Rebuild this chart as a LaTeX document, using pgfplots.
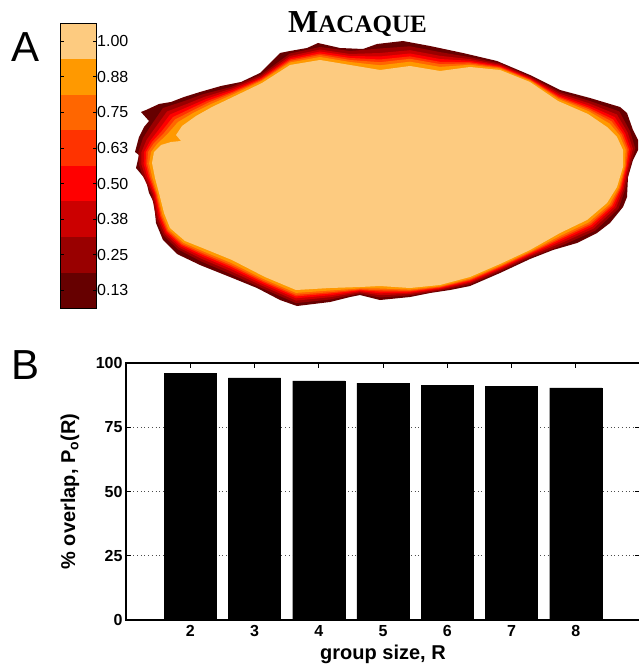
\documentclass[border=0pt]{standalone}
\usepackage{pgfplots}
\pgfplotsset{compat=1.18}
\usepackage{fontspec}
\setmainfont{Liberation Sans}
\newfontfamily\seriffont{Liberation Serif}
\definecolor{c1}{HTML}{660000}
\definecolor{c2}{HTML}{990000}
\definecolor{c3}{HTML}{CC0000}
\definecolor{c4}{HTML}{FF0000}
\definecolor{c5}{HTML}{FF3300}
\definecolor{c6}{HTML}{FF6600}
\definecolor{c7}{HTML}{FF9900}
\definecolor{c8}{HTML}{FDCB80}
\begin{document}
\begin{tikzpicture}[x=1pt,y=1pt]
\useasboundingbox (0,0) rectangle (639,665);
% ---------- colour bar ----------
\begin{axis}[at={(60.7pt,356.7pt)}, anchor=south west, scale only axis,
  width=36pt, height=285pt, xmin=0, xmax=1, ymin=0, ymax=8,
  xtick=\empty, ytick={0.5,1.5,2.5,3.5,4.5,5.5,6.5,7.5},
  yticklabels={0.13,0.25,0.38,0.50,0.63,0.75,0.88,1.00},
  yticklabel pos=right, ytick pos=both, tick align=inside,
  major tick length=3.5pt, axis on top,
  axis line style={line width=1.3pt}, every tick/.style={black, line width=0.8pt},
  yticklabel style={font=\fontsize{16}{16}\selectfont, xshift=-3pt},
  /pgf/number format/assume math mode=true]
\addplot[fill=c1, draw=none] coordinates {(0,0)(1,0)(1,1)(0,1)} --cycle;
\addplot[fill=c2, draw=none] coordinates {(0,1)(1,1)(1,2)(0,2)} --cycle;
\addplot[fill=c3, draw=none] coordinates {(0,2)(1,2)(1,3)(0,3)} --cycle;
\addplot[fill=c4, draw=none] coordinates {(0,3)(1,3)(1,4)(0,4)} --cycle;
\addplot[fill=c5, draw=none] coordinates {(0,4)(1,4)(1,5)(0,5)} --cycle;
\addplot[fill=c6, draw=none] coordinates {(0,5)(1,5)(1,6)(0,6)} --cycle;
\addplot[fill=c7, draw=none] coordinates {(0,6)(1,6)(1,7)(0,7)} --cycle;
\addplot[fill=c8, draw=none] coordinates {(0,7)(1,7)(1,8)(0,8)} --cycle;
\end{axis}
% ---------- overlap map ----------
\begin{axis}[at={(130pt,355pt)}, anchor=south west, scale only axis,
  width=509pt, height=270pt, xmin=130, xmax=639, ymin=40, ymax=310,
  y dir=reverse, hide axis, clip=false]
\addplot[fill=c1, draw=none] coordinates {(135,152)(139,137)(144,127)(149,121)(141,112)(146,110)(159,104)(171,102)(184,97)(200,92)(221,86)(241,82)(260,73)(280,53)(290,51)(307,48)(318,43)(340,48)(363,49)(377,44)(403,41)(430,46)(463,53)(497,61)(530,75)(560,90)(590,98)(620,107)(627,113)(633,130)(638,140)(638,150)(633,160)(628,177)(627,197)(623,207)(610,223)(597,233)(577,243)(553,250)(530,259)(500,273)(470,286)(450,290)(430,293)(410,297)(390,299)(380,300)(360,295)(350,297)(330,302)(297,306)(280,300)(257,288)(230,277)(200,265)(177,254)(163,240)(156,223)(154,203)(149,193)(146,180)(136,168)(139,155)} --cycle;
\addplot[fill=c2, draw=none] coordinates {(138.4,152)(143,138)(151,125.5)(163,108)(186,100.5)(202,94.5)(231,87)(260.5,75)(290,53.5)(320,47)(350,51)(380,48.5)(410,46.3)(440,52.1)(470,57.2)(500,63.4)(530,76.3)(559.6,92)(589.6,100.9)(619.3,111.4)(630.1,131.3)(635.3,148.4)(630.4,165.4)(625.2,189.5)(618.5,208.7)(595.2,230.7)(564.1,244.5)(530,257.4)(500,271.4)(470,284.4)(440,290.7)(410,295.4)(380,297.5)(360,293.6)(330,299.5)(296,303.1)(260.9,287.7)(230.4,273.9)(200.9,261.3)(177.6,249.2)(163.4,235.4)(156.6,220.4)(151.6,194.6)(142.7,175.5)(138.9,164.6)} --cycle;
\addplot[fill=c3, draw=none] coordinates {(141.5,152)(146.5,140)(155,128)(167,111.5)(188,103.5)(204,97)(232,88.5)(261,76.5)(290,56)(320,49.5)(350,54)(380,53)(410,50.2)(440,55.8)(470,59.1)(500,64.7)(530,77.4)(559.3,93.7)(589.3,103.4)(616.9,114.5)(627.6,132.4)(632.9,148.7)(628.9,165.7)(623.6,189)(616.2,207.6)(593.6,228.6)(563.3,242.2)(530,255.9)(500,269.9)(470,282.9)(440,289.6)(410,293.9)(380,295.2)(360,292.3)(330,297.2)(296,300.6)(261.7,285.6)(230.7,271.2)(201.7,258.9)(179.1,247.6)(164.7,233.9)(158.1,218.9)(153.1,194.3)(145.1,176)(141.4,164.3)} --cycle;
\addplot[fill=c4, draw=none] coordinates {(144,152)(150,141)(158.5,130)(170,114.5)(190,106)(206,99)(232.5,90)(261,78)(290,58)(320,51.5)(350,56)(380,56.5)(410,53.5)(440,59)(470,60.8)(500,65.8)(530,78.4)(559,95.3)(589,105.7)(614.8,117.1)(625.3,133.4)(630.8,149)(627.7,166)(622.2,188.6)(614.3,206.6)(592.2,226.8)(562.6,240.3)(530,254.7)(500,268.7)(470,281.7)(440,288.6)(410,292.7)(380,293.3)(360,291.2)(330,295.3)(296,298.3)(262.4,283.8)(231,268.8)(202.4,256.8)(180.3,246.2)(165.8,232.7)(159.3,217.7)(154.3,194)(147.2,176.4)(143.7,164)} --cycle;
\addplot[fill=c5, draw=none] coordinates {(146,152)(152,142)(161.5,131.5)(173,117)(191,108.5)(207,101)(233,91.5)(261,79)(290,59.5)(320,53.5)(350,58)(380,59.5)(410,56.4)(440,61.8)(470,62.2)(500,66.8)(530,79.2)(558.8,96.6)(588.8,107.6)(613,119.4)(623.4,134.2)(629,149.2)(626.6,166.2)(621,188.2)(612.6,205.8)(591,225.2)(562,238.6)(530,253.6)(500,267.6)(470,280.6)(440,287.8)(410,291.6)(380,291.6)(360,290.2)(330,293.6)(296,296.4)(263,282.2)(231.2,266.8)(203,255)(181.4,245)(166.8,231.6)(160.4,216.6)(155.4,193.8)(149,176.8)(145.6,163.8)} --cycle;
\addplot[fill=c6, draw=none] coordinates {(148,152)(154,143)(164,133)(175,119.5)(192.5,110.5)(208.5,102.5)(233.5,92.5)(261.5,80)(290,61)(320,55)(350,60)(380,62.2)(410,58.8)(440,64.1)(470,63.4)(500,67.6)(530,79.9)(558.6,97.7)(588.6,109.2)(611.5,121.3)(621.8,134.9)(627.5,149.4)(625.7,166.4)(620,187.9)(611.2,205.1)(590,223.9)(561.5,237.2)(530,252.7)(500,266.7)(470,279.7)(440,287.1)(410,290.7)(380,290.2)(360,289.4)(330,292.2)(296,294.8)(263.5,280.9)(231.4,265.1)(203.5,253.5)(182.3,244)(167.6,230.7)(161.3,215.7)(156.3,193.6)(150.5,177.1)(147.2,163.6)} --cycle;
\addplot[fill=c7, draw=none] coordinates {(151,152)(157,144)(167,134.5)(178,122)(194,112.5)(210,104.5)(234,94)(261.5,81)(290,62.5)(320,57)(350,62)(380,65.3)(410,61.7)(440,66.9)(470,64.8)(500,68.6)(530,80.7)(558.4,99)(588.4,111.1)(609.7,123.6)(619.9,135.7)(625.7,149.6)(624.6,166.6)(618.8,187.5)(609.5,204.3)(588.8,222.3)(560.9,235.5)(530,251.6)(500,265.6)(470,278.6)(440,286.3)(410,289.6)(380,288.5)(360,288.4)(330,290.5)(296,292.9)(264.1,279.3)(231.6,263.1)(204.1,251.7)(183.4,242.8)(168.6,229.6)(162.4,214.6)(157.4,193.4)(152.3,177.5)(149.1,163.4)} --cycle;
\addplot[fill=c8, draw=none] coordinates {(154,152)(161,145)(171,142)(181,141)(176,135)(182,126)(196,116)(212,107)(235,96)(262,83)(290,65)(320,60)(350,65)(380,70)(410,66)(440,71)(470,67)(500,70)(530,82)(558,101)(588,114)(607,127)(617,137)(623,150)(623,167)(617,187)(607,203)(587,220)(560,233)(530,250)(500,264)(470,277)(440,285)(410,288)(380,286)(360,287)(330,288)(296,290)(265,277)(232,260)(205,249)(185,241)(170,228)(164,213)(159,193)(155,178)(152,163)} --cycle;
\end{axis}
% ---------- panel B ----------
\begin{axis}[at={(126pt,45pt)}, anchor=south west, scale only axis,
  width=514pt, height=257pt, xmin=1, xmax=9, ymin=0, ymax=100,
  xtick={2,3,4,5,6,7,8}, ytick={0,25,50,75,100},
  xtick pos=both, ytick pos=both, tick align=inside, major tick length=4.5pt,
  axis line style={line width=1.2pt}, every tick/.style={black, line width=0.9pt},
  ymajorgrids, grid style={black!70, line width=0.7pt, dash pattern=on 0.7pt off 3pt},
  ticklabel style={font=\fontsize{16}{16}\selectfont\bfseries},
  xticklabel style={yshift=-2pt},
  /pgf/number format/assume math mode=true,
  xlabel={group size, R}, ylabel={\% overlap, P\textsubscript{o}(R)},
  label style={font=\fontsize{20}{20}\selectfont\bfseries},
  xlabel style={at={(axis description cs:0.5,-0.132)}, anchor=center},
  ylabel style={at={(axis description cs:-0.109,0.5)}, anchor=center}]
\addplot[ybar, bar width=0.81, fill=black, draw=black] coordinates {(2,96.1)(3,94.2)(4,93.0)(5,92.2)(6,91.4)(7,91.0)(8,90.3)};
\end{axis}
\node[font=\fontsize{42}{42}\selectfont] at (26,618) {A};
\node[font=\fontsize{42}{42}\selectfont] at (25.5,300) {B};
\node[font=\seriffont\bfseries] at (357.5,641) {\fontsize{32}{32}\selectfont M\fontsize{25}{25}\selectfont ACAQUE};
\end{tikzpicture}
\end{document}
